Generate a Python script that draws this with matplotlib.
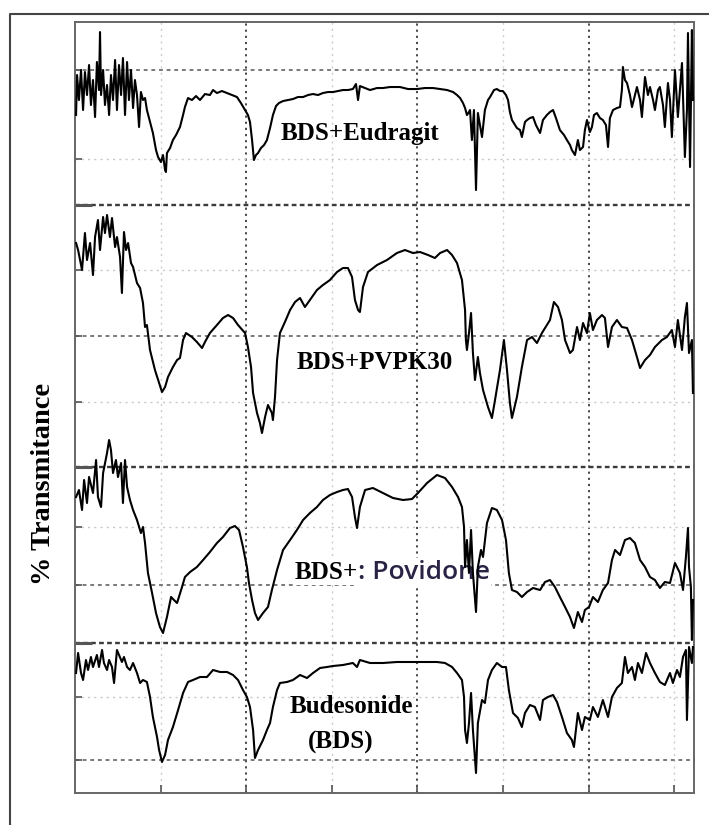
import numpy as np
import matplotlib
matplotlib.use('Agg')
import matplotlib.pyplot as plt
from matplotlib.lines import Line2D

# FTIR traces, stacked on one axis: (wavenumber cm-1, offset transmittance)
eudragit = [
    (3994, 67.8), (3988, 71.8), (3977, 69.3), (3965, 72.3), (3953, 68.3), (3942, 72.1),
    (3930, 69.8), (3918, 72.8), (3907, 68.8), (3895, 71.3), (3883, 67.6), (3872, 73.1),
    (3860, 70.3), (3854, 76.1), (3848, 69.8), (3836, 72.3), (3825, 68.8), (3813, 70.8),
    (3801, 67.8), (3790, 71.8), (3778, 69.3), (3766, 73.3), (3755, 68.3), (3743, 72.8),
    (3731, 69.8), (3720, 73.5), (3708, 67.8), (3696, 73.1), (3685, 69.3), (3673, 72.3),
    (3661, 68.5), (3650, 71.3), (3638, 69.8), (3626, 66.6), (3615, 70.1), (3603, 69.3),
    (3591, 69.5), (3580, 68.3), (3562, 67.1), (3545, 66.0), (3527, 64.3), (3515, 63.6),
    (3498, 63.1), (3486, 63.8), (3474, 62.3), (3469, 62.1), (3463, 64.0), (3445, 64.5),
    (3428, 65.3), (3410, 65.8), (3387, 66.6), (3369, 67.8), (3358, 68.6), (3340, 69.5),
    (3317, 69.3), (3293, 69.7), (3270, 69.3), (3241, 69.9), (3212, 69.8), (3194, 70.3),
    (3171, 70.0), (3142, 70.2), (3112, 70.0), (3083, 69.8), (3054, 69.6), (3031, 69.0),
    (3007, 68.3), (2990, 67.8), (2978, 67.1), (2966, 65.3), (2955, 63.3), (2943, 63.8),
    (2931, 64.0), (2914, 64.5), (2896, 64.8), (2879, 65.3), (2861, 66.5), (2844, 67.8),
    (2826, 68.7), (2809, 69.0), (2785, 69.2), (2756, 69.3), (2727, 69.4), (2698, 69.6),
    (2668, 69.6), (2639, 69.8), (2610, 69.9), (2581, 69.8), (2552, 70.0), (2522, 70.1),
    (2493, 70.1), (2464, 70.2), (2435, 70.3), (2406, 70.3), (2377, 70.4), (2359, 70.9),
    (2347, 69.3), (2336, 70.7), (2306, 70.5), (2277, 70.3), (2236, 70.5), (2201, 70.5),
    (2160, 70.6), (2102, 70.6), (2055, 70.4), (2003, 70.4), (1956, 70.5), (1909, 70.5),
    (1868, 70.4), (1827, 70.3), (1792, 70.1), (1769, 69.8), (1751, 69.5), (1734, 69.0),
    (1722, 68.5), (1711, 67.8), (1699, 68.1), (1693, 68.3), (1682, 65.3), (1670, 68.3),
    (1658, 60.3), (1647, 68.0), (1635, 66.8), (1623, 65.6), (1606, 68.3), (1588, 69.3),
    (1576, 69.6), (1553, 70.3), (1536, 70.4), (1518, 70.2), (1501, 70.2), (1483, 69.8),
    (1471, 69.3), (1460, 68.1), (1448, 67.3), (1430, 66.8), (1419, 66.5), (1401, 66.3),
    (1390, 65.6), (1372, 67.1), (1360, 67.3), (1343, 67.5), (1325, 67.6), (1308, 66.8),
    (1284, 66.0), (1267, 67.3), (1244, 67.8), (1226, 68.1), (1208, 68.3), (1191, 67.5),
    (1168, 66.3), (1144, 65.8), (1127, 65.3), (1109, 64.8), (1098, 64.3), (1080, 63.8),
    (1063, 65.3), (1051, 64.3), (1033, 64.6), (1022, 66.3), (1010, 67.3), (993, 66.1),
    (981, 66.6), (969, 67.8), (952, 68.0), (934, 67.5), (917, 67.3), (899, 66.8),
    (887, 64.6), (876, 67.5), (858, 68.3), (835, 68.5), (817, 68.6), (806, 70.3),
    (800, 72.6), (788, 71.3), (776, 71.0), (759, 69.8), (747, 68.6), (730, 69.8),
    (718, 70.6), (700, 69.3), (689, 67.6), (671, 71.6), (654, 69.8), (642, 70.6),
    (624, 69.3), (613, 68.3), (595, 70.3), (584, 70.6), (566, 68.8), (555, 66.6),
    (537, 71.0), (525, 69.3), (514, 65.6), (496, 72.3), (479, 67.6), (467, 70.3),
    (455, 73.0), (438, 63.6), (426, 68.3), (420, 76.0), (408, 62.6), (397, 76.3),
    (391, 69.3),
]

pvpk30 = [
    (3994, 55.0), (3982, 54.3), (3959, 52.3), (3942, 56.0), (3930, 53.3), (3912, 55.0),
    (3895, 51.8), (3883, 55.6), (3866, 57.3), (3854, 54.3), (3836, 57.6), (3825, 56.0),
    (3813, 57.8), (3796, 55.6), (3784, 57.5), (3766, 54.6), (3755, 55.6), (3737, 53.6),
    (3726, 50.0), (3714, 56.1), (3702, 54.3), (3690, 55.0), (3673, 53.0), (3661, 52.6),
    (3638, 51.0), (3620, 50.5), (3603, 49.0), (3591, 46.6), (3580, 46.8), (3562, 44.3),
    (3533, 42.3), (3509, 41.0), (3492, 40.1), (3474, 40.6), (3457, 41.6), (3428, 42.6),
    (3404, 43.3), (3387, 43.5), (3369, 45.3), (3352, 46.0), (3317, 45.6), (3288, 45.1),
    (3258, 44.5), (3241, 45.1), (3212, 46.0), (3171, 46.8), (3136, 47.5), (3106, 47.8),
    (3077, 47.5), (3048, 46.8), (3007, 46.0), (2990, 44.6), (2972, 42.6), (2960, 40.0),
    (2937, 38.0), (2920, 37.0), (2908, 36.0), (2890, 37.6), (2873, 38.8), (2850, 38.0),
    (2844, 37.3), (2832, 39.6), (2820, 43.3), (2803, 46.0), (2774, 47.1), (2744, 48.3),
    (2715, 49.1), (2686, 49.5), (2657, 48.6), (2628, 49.3), (2587, 50.3), (2552, 50.8),
    (2511, 51.3), (2470, 52.1), (2435, 52.5), (2406, 52.5), (2382, 51.6), (2365, 49.3),
    (2347, 48.3), (2336, 48.1), (2318, 50.6), (2289, 52.1), (2236, 52.8), (2178, 53.3),
    (2120, 54.0), (2073, 54.3), (2026, 54.0), (1985, 54.1), (1938, 53.8), (1898, 53.5),
    (1868, 54.0), (1827, 54.3), (1798, 53.8), (1769, 53.0), (1740, 51.3), (1722, 48.3),
    (1717, 45.3), (1711, 44.3), (1699, 46.0), (1687, 48.0), (1676, 44.0), (1664, 41.3),
    (1647, 43.6), (1635, 42.0), (1617, 40.3), (1588, 38.6), (1565, 37.5), (1547, 39.3),
    (1518, 42.3), (1495, 45.3), (1477, 42.3), (1460, 39.0), (1448, 37.5), (1419, 39.6),
    (1390, 42.6), (1360, 45.3), (1331, 45.6), (1302, 45.0), (1273, 46.0), (1244, 46.8),
    (1226, 47.3), (1203, 49.1), (1179, 48.6), (1156, 47.3), (1138, 45.3), (1109, 44.0),
    (1092, 44.3), (1068, 46.6), (1051, 45.3), (1033, 47.0), (1010, 46.0), (993, 48.0),
    (975, 46.3), (952, 47.3), (922, 47.8), (905, 47.5), (887, 44.6), (864, 46.6),
    (835, 47.3), (806, 46.6), (776, 46.5), (747, 45.3), (718, 43.6), (700, 42.5),
    (671, 43.3), (642, 43.8), (613, 44.6), (572, 45.3), (543, 45.6), (514, 46.3),
    (496, 44.6), (479, 47.3), (455, 44.3), (438, 47.6), (426, 49.0), (414, 44.0),
    (397, 45.3), (391, 40.0),
]

povidone = [
    (3994, 29.6), (3977, 30.3), (3959, 28.3), (3947, 31.3), (3930, 29.0), (3918, 31.6),
    (3895, 30.0), (3877, 33.3), (3866, 29.6), (3848, 28.6), (3836, 32.0), (3813, 34.0),
    (3801, 35.3), (3790, 34.3), (3778, 32.0), (3761, 33.3), (3749, 31.6), (3731, 33.0),
    (3720, 29.0), (3708, 33.3), (3696, 30.6), (3679, 29.3), (3661, 28.3), (3638, 27.3),
    (3615, 26.0), (3603, 26.6), (3591, 25.0), (3574, 22.0), (3550, 20.0), (3527, 18.0),
    (3504, 16.6), (3486, 16.0), (3463, 17.6), (3439, 19.6), (3422, 19.3), (3404, 19.0),
    (3375, 20.6), (3358, 21.6), (3328, 22.1), (3288, 22.6), (3252, 23.3), (3212, 24.1),
    (3171, 25.0), (3136, 25.6), (3095, 26.5), (3066, 26.7), (3042, 26.3), (3019, 24.6),
    (2996, 22.6), (2984, 21.0), (2966, 19.3), (2949, 18.0), (2931, 17.3), (2902, 18.0),
    (2873, 18.6), (2850, 20.3), (2820, 22.3), (2785, 24.3), (2744, 25.3), (2704, 26.3),
    (2668, 27.3), (2628, 28.0), (2587, 28.6), (2552, 29.3), (2511, 29.8), (2470, 30.1),
    (2435, 30.3), (2406, 30.4), (2382, 29.6), (2365, 27.6), (2353, 26.5), (2336, 28.6),
    (2306, 30.3), (2260, 30.5), (2201, 30.0), (2143, 29.5), (2084, 29.3), (2032, 29.4),
    (1997, 30.0), (1944, 31.0), (1886, 31.8), (1839, 31.5), (1798, 30.6), (1763, 29.6),
    (1740, 28.6), (1728, 26.6), (1722, 22.6), (1711, 25.3), (1699, 22.0), (1687, 26.3),
    (1676, 22.0), (1658, 18.1), (1647, 22.6), (1629, 24.3), (1617, 23.6), (1594, 27.0),
    (1565, 28.5), (1536, 28.3), (1506, 27.3), (1483, 25.3), (1466, 22.0), (1448, 20.3),
    (1419, 20.1), (1390, 19.6), (1360, 20.1), (1325, 20.5), (1284, 20.3), (1255, 21.1),
    (1226, 21.3), (1197, 20.6), (1168, 19.6), (1138, 18.6), (1109, 17.6), (1086, 16.5),
    (1063, 18.1), (1039, 17.1), (1022, 18.3), (998, 18.6), (975, 19.6), (946, 19.1),
    (917, 20.3), (887, 21.0), (864, 23.3), (846, 24.3), (817, 23.8), (788, 25.3),
    (759, 25.5), (730, 25.0), (700, 23.3), (671, 22.6), (642, 21.6), (613, 21.3),
    (584, 20.5), (555, 21.1), (525, 21.0), (496, 23.0), (467, 22.0), (449, 20.3),
    (432, 23.6), (420, 26.5), (414, 22.6), (403, 20.6), (397, 15.3), (391, 19.3),
]

budesonide = [
    (3994, 12.0), (3982, 14.0), (3965, 12.0), (3953, 11.3), (3936, 13.3), (3924, 12.3),
    (3907, 13.6), (3895, 12.6), (3872, 13.8), (3860, 12.6), (3842, 14.3), (3831, 13.0),
    (3813, 12.3), (3801, 13.3), (3784, 12.6), (3772, 11.0), (3755, 14.3), (3743, 13.8),
    (3726, 13.1), (3714, 13.6), (3696, 12.6), (3679, 12.3), (3661, 13.0), (3638, 12.0),
    (3620, 11.0), (3603, 11.3), (3580, 11.1), (3562, 9.6), (3545, 7.6), (3521, 5.6),
    (3509, 4.3), (3492, 3.1), (3474, 3.8), (3457, 5.3), (3428, 6.6), (3398, 8.3),
    (3369, 10.0), (3340, 11.1), (3311, 11.3), (3270, 11.6), (3229, 11.6), (3194, 12.3),
    (3153, 12.1), (3112, 12.1), (3077, 11.8), (3048, 11.3), (3019, 10.3), (2996, 9.6),
    (2978, 8.6), (2960, 6.3), (2949, 3.5), (2931, 4.3), (2902, 5.3), (2879, 6.3),
    (2861, 7.0), (2844, 8.6), (2820, 10.3), (2803, 11.0), (2762, 11.1), (2727, 11.3),
    (2686, 11.8), (2645, 11.5), (2610, 12.0), (2569, 12.5), (2528, 12.6), (2493, 12.7),
    (2435, 12.8), (2377, 13.0), (2353, 12.6), (2336, 13.3), (2277, 13.0), (2201, 13.0),
    (2120, 13.1), (2044, 13.1), (1968, 13.1), (1886, 13.1), (1839, 13.0), (1798, 12.6),
    (1769, 12.0), (1740, 11.3), (1728, 9.6), (1722, 6.3), (1711, 5.0), (1699, 7.0),
    (1687, 10.0), (1676, 6.3), (1658, 2.0), (1647, 7.0), (1623, 9.3), (1606, 9.0),
    (1588, 11.3), (1565, 12.3), (1536, 13.0), (1506, 12.6), (1483, 12.6), (1466, 10.3),
    (1442, 8.0), (1413, 7.5), (1390, 6.6), (1372, 8.0), (1343, 8.8), (1314, 8.6),
    (1284, 7.3), (1267, 9.3), (1238, 9.6), (1208, 9.8), (1185, 9.1), (1156, 7.6),
    (1127, 6.0), (1098, 5.3), (1086, 4.6), (1063, 8.0), (1039, 6.3), (1022, 7.6),
    (993, 7.3), (975, 8.6), (946, 7.6), (917, 9.3), (887, 7.6), (864, 9.6),
    (835, 10.5), (806, 11.0), (788, 13.6), (771, 12.0), (747, 12.6), (730, 11.3),
    (712, 13.0), (689, 12.0), (665, 14.0), (642, 13.0), (613, 12.0), (584, 11.1),
    (555, 10.8), (525, 12.0), (508, 11.0), (484, 12.3), (467, 11.6), (449, 13.6),
    (432, 14.3), (426, 7.3), (414, 14.6), (397, 13.0), (391, 14.6),
]

traces = [eudragit, pvpk30, povidone, budesonide]

# grid / panel levels
major_wn = [3000, 2000, 1000]
minor_wn = [3500, 2500, 1500, 500]
panel_edges = [58.8, 32.6, 15.0]
dash_levels = [72.3, 45.7, 20.8, 3.3]
light_levels = [63.4, 52.3, 39.1, 26.6, 9.6]

fig = plt.figure(figsize=(7.09, 8.25), dpi=100)
ax = fig.add_axes([0.1058, 0.0388, 0.873, 0.9345])
ax.set_xlim(4000, 385)
ax.set_ylim(0, 77.1)

for x in major_wn:
    ax.axvline(x, color='#3a3a3a', lw=1.3, dashes=(1.2, 2.2), zorder=1)
for x in minor_wn:
    ax.axvline(x, color='#cccccc', lw=1.0, dashes=(1.5, 3), zorder=1)
for y in panel_edges:
    ax.axhline(y, color='#3a3a3a', lw=1.7, dashes=(2.0, 1.4), zorder=1)
for y in dash_levels:
    ax.axhline(y, color='#555555', lw=1.1, dashes=(2.5, 2.5), zorder=1)
for y in light_levels:
    ax.axhline(y, color='#c8c8c8', lw=1.0, dashes=(1.5, 3), zorder=1)

for tr in traces:
    arr = np.array(tr)
    ax.plot(arr[:, 0], arr[:, 1], color='black', lw=1.5, zorder=3)

ax.set_xticks(major_wn + minor_wn)
ax.set_yticks(panel_edges)
ax.set_yticks(dash_levels + light_levels, minor=True)
ax.set_xticklabels([])
ax.set_yticklabels([])
ax.tick_params(axis='x', direction='in', length=6, width=1.2, color='#555555')
ax.tick_params(axis='y', which='major', direction='in', length=12, width=2.2, color='#555555')
ax.tick_params(axis='y', which='minor', direction='in', length=5, width=1.2, color='#555555')
for sp in ax.spines.values():
    sp.set_color('#666666')
    sp.set_linewidth(1.4)

serif = dict(family='Liberation Serif', weight='bold', fontsize=18, zorder=2)
ax.text(2336, 66.0, 'BDS+Eudragit', ha='center', va='center', **serif)
ax.text(2248, 43.1, 'BDS+PVPK30', ha='center', va='center', **serif)
ax.text(2347, 22.1, 'BDS+', ha='right', va='center',
        bbox=dict(facecolor='white', edgecolor='none', pad=1), **serif)
ax.text(2347, 22.1, ': Povidone', ha='left', va='center', family='Open Sans',
        weight='semibold', fontsize=19, color='#2b2346', zorder=2,
        bbox=dict(facecolor='white', edgecolor='none', pad=1))
ax.text(2388, 8.6, 'Budesonide', ha='center', va='center', **serif)
ax.text(2447, 5.1, '(BDS)', ha='center', va='center', **serif)

fig.text(44 / 709, 1 - 484 / 825, '% Transmitance', rotation=90, ha='center',
         va='center', family='Liberation Serif', weight='bold', fontsize=20.5)

# outer frame of the figure panel
fig.add_artist(Line2D([10 / 709, 10 / 709, 1.0], [0.0, 1 - 14 / 825, 1 - 14 / 825],
                      color='#444444', lw=1.5))

fig.savefig('out.png', dpi=100)
